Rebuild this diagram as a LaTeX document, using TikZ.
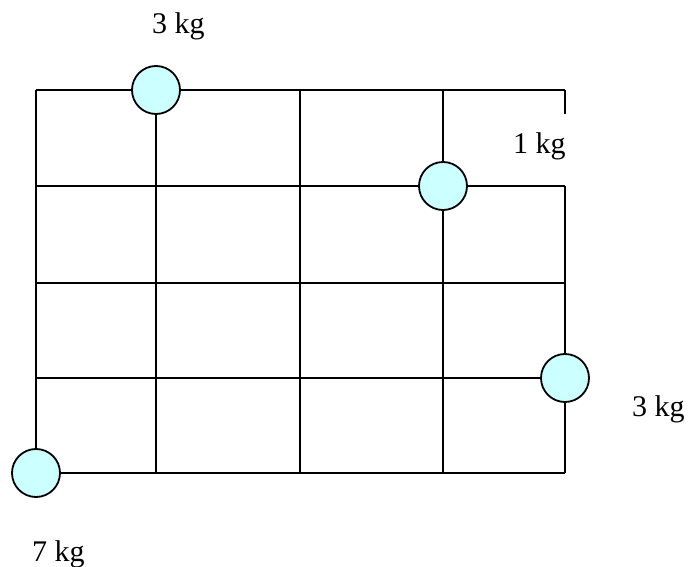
\documentclass[tikz,border=0pt]{standalone}
\usepackage{fontspec}
\setmainfont{Liberation Serif}
\definecolor{massfill}{HTML}{CCFFFF}
\begin{document}
\begin{tikzpicture}[x=1pt,y=-1pt,
  gridline/.style={line width=1.8pt,black},
  mass/.style={circle,draw=black,line width=1.8pt,fill=massfill,minimum size=48pt,inner sep=0pt},
  lbl/.style={anchor=base west,inner sep=0pt,font=\fontsize{30}{30}\selectfont}]
\useasboundingbox (0,0) rectangle (689,567);
% grid coordinates
\coordinate (a1) at (36,90);  \coordinate (a5) at (565,90);
\coordinate (b1) at (36,186); \coordinate (b5) at (565,186);
\coordinate (c1) at (36,283); \coordinate (c5) at (565,283);
\coordinate (d1) at (36,378); \coordinate (d5) at (565,378);
\coordinate (e1) at (36,473); \coordinate (e5) at (565,473);
\coordinate (t2) at (156,90); \coordinate (t3) at (300,90); \coordinate (t4) at (443,90);
\coordinate (u2) at (156,473); \coordinate (u3) at (300,473); \coordinate (u4) at (443,473);
\coordinate (gapA) at (565,114);
% horizontal lines
\draw[gridline] (a1) -- (a5);
\draw[gridline] (b1) -- (b5);
\draw[gridline] (c1) -- (c5);
\draw[gridline] (d1) -- (d5);
\draw[gridline] (e1) -- (e5);
% vertical lines
\draw[gridline] (a1) -- (e1);
\draw[gridline] (t2) -- (u2);
\draw[gridline] (t3) -- (u3);
\draw[gridline] (t4) -- (u4);
\draw[gridline] (a5) -- (gapA);
\draw[gridline] (b5) -- (e5);
% masses
\node[mass] (m1) at (t2) {};
\node[mass] (m2) at (443,186) {};
\node[mass] (m3) at (d5) {};
\node[mass] (m4) at (36,473) {};
% labels
\node[lbl] (l1) at (152,34) {3 kg};
\node[lbl] (l2) at (513,154) {1 kg};
\node[lbl] (l3) at (632,416) {3 kg};
\node[lbl] (l4) at (32,561) {7 kg};
\end{tikzpicture}
\end{document}
